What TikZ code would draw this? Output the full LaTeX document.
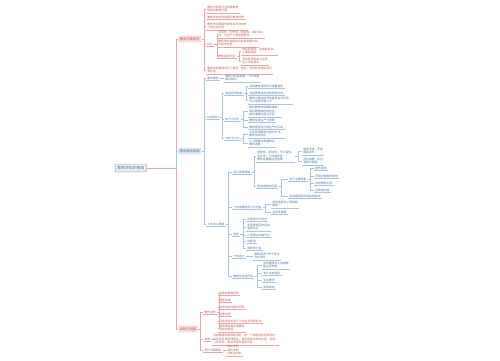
\documentclass[tikz,border=0pt]{standalone}
\usepackage{fontspec}
\setmainfont{Noto Sans CJK SC}
\definecolor{redtxt}{HTML}{C85A57}
\definecolor{redln}{HTML}{EBA5A5}
\definecolor{redbg}{HTML}{FADCDC}
\definecolor{bluetxt}{HTML}{4A74A0}
\definecolor{blueln}{HTML}{A9C4E0}
\definecolor{bluebg}{HTML}{DCE7F3}
\newcommand\mmfont{\fontsize{1.6}{2.05}\selectfont}
\newcommand\brfont{\fontsize{1.9}{2.3}\selectfont}
\newcommand\rtfont{\fontsize{2.2}{2.6}\selectfont}
% one leaf: parent, name, x, y, text
\newcommand\twig[5]{%
  \node[leaf] (#2) at (#3,#4) {#5};
  \draw[uline] (#2.south west) -- (#2.south east);
  \draw[link] (#1.east) -- ++(2.5,0) |- (#2.west);
}
\tikzset{
  leaf/.style={anchor=west, align=left, inner xsep=0.6pt, inner ysep=0.4pt,
    font=\mmfont, text=brt},
  uline/.style={draw=brl, line width=0.2pt},
  link/.style={draw=brl, line width=0.3pt},
  branch/.style={anchor=west, font=\brfont, fill=brb, text=brt,
    inner xsep=0.8pt, inner ysep=1pt, rounded corners=0.4pt},
  rootbox/.style={anchor=west, font=\rtfont, fill=gray!12, draw=bluetxt!60,
    line width=0.3pt, text=bluetxt, inner sep=1.2pt, rounded corners=0.5pt}
}
\begin{document}
\begin{tikzpicture}[x=0.02cm, y=-0.02cm]
  \useasboundingbox (0,0) rectangle (500,360);
  \fill[white] (0,0) rectangle (500,360);
  % root and its hub line
  \node[rootbox] (kb) at (115,168) {教育学知识框架};
  \coordinate (hub) at (176,168);

  % first branch
  \begin{scope}
    \colorlet{brt}{redtxt}\colorlet{brl}{redln}\colorlet{brb}{redbg}
    \node[branch] (intro) at (178,39) {教育与教育学};
    \draw[link] (kb.east) -- (hub) |- (intro.west);
    \twig{intro}{intro1}{206}{9}{教育学的研究对象是教育\\现象和教育问题}
    \twig{intro}{intro2}{206}{17}{教育学的任务是揭示教育规律}
    \twig{intro}{intro3}{206}{26}{教育的本质属性是有目的地培养\\人的社会活动}
    \twig{intro}{intro4}{206}{44}{特点}
    \twig{intro4}{intro41}{217}{34}{永恒性、历史性、阶级性、相对独立\\性，与生产力发展相适应}
    \twig{intro4}{intro42}{217}{43}{教育的社会属性决定其发展方向\\与基本任务}
    \twig{intro4}{intro43}{217}{56}{教育起源学说}
    \twig{intro43}{intro431}{241}{51}{神话起源说、生物起源说、\\心理起源说}
    \twig{intro43}{intro432}{241}{61}{劳动起源说由马克思\\主义学者提出}
    \twig{intro}{intro5}{206}{70}{教育学的发展经历了萌芽、独立、多样化和理论深化\\等阶段}
  \end{scope}

  % second branch
  \begin{scope}
    \colorlet{brt}{bluetxt}\colorlet{brl}{blueln}\colorlet{brb}{bluebg}
    \node[branch] (law) at (178,151) {教育基本规律};
    \draw[link] (kb.east) -- (hub) |- (law.west);
    \twig{law}{law1}{206}{78}{基本概述}
    \twig{law1}{law11}{224}{78}{教育与社会发展、人的发展\\相互制约}
    \twig{law}{law2}{206}{117}{社会制约}
    \twig{law2}{law21}{224}{93}{政治经济制度}
    \twig{law21}{law211}{248}{86}{决定教育领导权与受教育权}
    \twig{law21}{law212}{248}{93}{决定教育目的的性质和方向}
    \twig{law21}{law213}{248}{100}{教育对政治经济制度具有反作用，\\可以培养所需人才}
    \twig{law2}{law22}{224}{119}{生产力水平}
    \twig{law22}{law221}{248}{111}{制约教育的规模和速度，\\制约教育结构的变化，\\制约课程内容与手段}
    \twig{law22}{law222}{248}{120}{教育促进生产力发展}
    \twig{law22}{law223}{248}{127}{教育是劳动力再生产的手段}
    \twig{law2}{law23}{224}{138}{文化与人口}
    \twig{law23}{law231}{248}{134}{文化影响教育内容与方法，\\教育传承文化}
    \twig{law23}{law232}{248}{143}{人口数量与质量制约\\教育发展}
    \twig{law}{law4}{206}{224}{人的身心发展}
    \twig{law4}{law41}{232}{172}{身心发展规律}
    \twig{law41}{law411}{256}{156}{顺序性、阶段性、不平衡性、\\互补性、个别差异性，\\教育应遵循这些规律}
    \twig{law411}{law4111}{302}{151}{循序渐进，不能\\揠苗助长}
    \twig{law411}{law4112}{302}{161}{因材施教，抓住\\发展关键期}
    \twig{law41}{law412}{256}{186}{影响发展的因素}
    \twig{law412}{law4121}{288}{179}{四个主要因素}
    \twig{law4121}{law41211}{314}{168}{遗传素质}
    \twig{law4121}{law41212}{314}{176}{环境对发展的影响}
    \twig{law4121}{law41213}{314}{183}{学校教育主导}
    \twig{law4121}{law41214}{314}{190}{主观能动性}
    \twig{law412}{law4122}{288}{196}{各因素相互作用综合影响}
    \twig{law4}{law42}{232}{207}{个体发展的含义与内容}
    \twig{law42}{law421}{271}{204}{身体发展与心理发展\\相统一}
    \twig{law42}{law422}{271}{212}{主体性发展}
    \twig{law4}{law43}{232}{234}{理论}
    \twig{law43}{law431}{246}{219}{内发论与外铄论}
    \twig{law43}{law432}{246}{227}{多因素相互作用论\\强调交互}
    \twig{law43}{law433}{246}{235}{二因素论与辐合论}
    \twig{law43}{law434}{246}{241}{白板说}
    \twig{law43}{law435}{246}{248}{成熟势力说}
    \twig{law4}{law44}{232}{256}{个体意义}
    \twig{law44}{law441}{253}{256}{教育促进个体个性化\\与社会化}
    \twig{law4}{law45}{232}{276}{教育的主导作用}
    \twig{law45}{law451}{262}{265}{学校教育对人的发展\\起主导作用}
    \twig{law45}{law452}{262}{273}{有计划有组织}
    \twig{law45}{law453}{262}{280}{专业教师}
    \twig{law45}{law454}{262}{287}{系统影响}
  \end{scope}

  % third branch
  \begin{scope}
    \colorlet{brt}{redtxt}\colorlet{brl}{redln}\colorlet{brb}{redbg}
    \node[branch] (aim) at (178,329) {目的与制度};
    \draw[link] (kb.east) -- (hub) |- (aim.west);
    \twig{aim}{aim1}{203}{312}{教育目的}
    \twig{aim1}{aim11}{218}{293}{我国的教育目的}
    \twig{aim1}{aim12}{218}{300}{德智体美}
    \twig{aim1}{aim13}{218}{307}{培养目标与教学目标}
    \twig{aim1}{aim14}{218}{314}{全面发展}
    \twig{aim1}{aim15}{218}{321}{社会本位论和个人本位论两种取向}
    \twig{aim1}{aim16}{218}{328}{素质教育是实施教育\\目的的途径}
    \twig{aim}{aim2}{203}{339}{制度}
    \twig{aim2}{aim21}{212}{339}{学校教育制度简称学制，是一个国家各级各类学校\\的系统及其管理规则，规定各级学校的性质、任务、\\入学条件、修业年限及彼此关系}
    \twig{aim}{aim3}{203}{350}{现代学制类型}
    \twig{aim3}{aim31}{226}{350}{双轨学制\\单轨学制\\分支型学制}
  \end{scope}
\end{tikzpicture}
\end{document}
